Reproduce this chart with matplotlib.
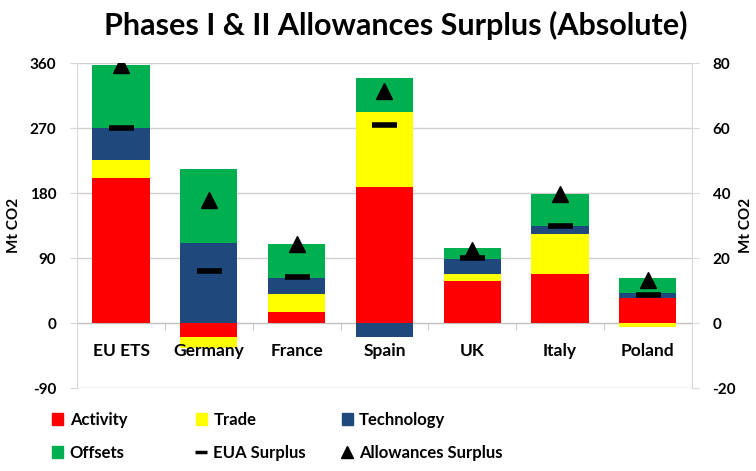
import numpy as np
import matplotlib
matplotlib.use("Agg")
import matplotlib.pyplot as plt
from matplotlib.lines import Line2D
from matplotlib.patches import Patch

plt.rcParams['font.family'] = ['Lato', 'DejaVu Sans']

# data (Mt CO2, left axis)
countries = ["EU ETS", "Germany", "France", "Spain", "UK", "Italy", "Poland"]
activity = [201, -19, 16, 189, 58, 68, 35]
trade = [25, -15, 24, 103, 10, 56, -5]
technology = [44, 111, 22, -19, 21, 10, 7]
offsets = [88, 102, 47, 48, 15, 45, 21]
# markers (right axis units)
eua_surplus = [60, 16, 14.2, 61, 20, 30, 8.5]
allow_surplus = [79.5, 37.8, 24.3, 71.3, 22.6, 39.6, 13.3]

left_ticks = [-90, 0, 90, 180, 270, 360]
right_ticks = [-20, 0, 20, 40, 60, 80]

c_act = "#ff0000"
c_trade = "#ffff00"
c_tech = "#1f497d"
c_off = "#00b050"

fig = plt.figure(figsize=(7.56, 4.71), dpi=100)
ax = fig.add_axes([0.102, 0.176, 0.813, 0.690])

x = np.arange(len(countries))
w = 0.65
pos_base = np.zeros(len(x))
neg_base = np.zeros(len(x))
for vals, col in [(activity, c_act), (trade, c_trade), (technology, c_tech), (offsets, c_off)]:
    vals = np.array(vals, dtype=float)
    base = np.where(vals >= 0, pos_base, neg_base)
    ax.bar(x, vals, w, bottom=base, color=col, zorder=3)
    pos_base = pos_base + np.where(vals >= 0, vals, 0)
    neg_base = neg_base + np.where(vals < 0, vals, 0)

ax.set_xlim(-0.5, len(x) - 0.5)
ax.set_ylim(-90, 360)
ax.set_yticks(left_ticks)
ax.set_yticklabels([str(t) for t in left_ticks], fontsize=11, fontweight='bold')
ax.grid(axis='y', color='#d0d0d0', lw=1, zorder=0)
ax.set_ylabel("Mt CO2", fontsize=11, fontweight='bold', labelpad=6)

ax.spines['bottom'].set_position(('data', 0))
ax.spines['bottom'].set_color('#c0c0c0')
ax.spines['bottom'].set_zorder(2)
ax.spines['top'].set_visible(False)
ax.spines['right'].set_visible(False)
ax.spines['left'].set_color('#d9d9d9')
ax.set_xticks(x)
ax.set_xticklabels(countries, fontsize=12.5, fontweight='bold')
ax.set_xticks(np.arange(0.5, len(x) - 0.5), minor=True)
ax.tick_params(axis='x', which='major', length=0, pad=14)
ax.tick_params(axis='x', which='minor', length=5, color='#c0c0c0', direction='out')
ax.tick_params(axis='y', length=5, color='#d9d9d9', pad=10)
ax.xaxis.set_zorder(4)

ax2 = ax.twinx()
ax2.set_ylim(-20, 80)
ax2.set_yticks(right_ticks)
ax2.set_yticklabels([str(t) for t in right_ticks], fontsize=11, fontweight='bold')
ax2.tick_params(axis='y', length=5, color='#d9d9d9', pad=10)
for s in ['top', 'left', 'bottom']:
    ax2.spines[s].set_visible(False)
ax2.spines['right'].set_color('#d9d9d9')
ax2.set_ylabel("Mt CO2", fontsize=11, fontweight='bold', labelpad=2)
ax2.plot(x, eua_surplus, ls='none', marker='_', ms=18, mew=4, color='black', zorder=5)
ax2.plot(x, allow_surplus, ls='none', marker='^', ms=11, color='black', zorder=5)

fig.text(0.523, 0.947, "Phases I & II Allowances Surplus (Absolute)", fontsize=22,
         fontweight='bold', ha='center', va='center')

legend_cols = [
    (0.069, [Patch(color=c_act, label="Activity"), Patch(color=c_off, label="Offsets")]),
    (0.259, [Patch(color=c_trade, label="Trade"),
             Line2D([], [], ls='none', marker='_', ms=9, mew=2.5, color='black', label="EUA Surplus")]),
    (0.452, [Patch(color=c_tech, label="Technology"),
             Line2D([], [], ls='none', marker='^', ms=8, color='black', label="Allowances Surplus")]),
]
for xpos, hs in legend_cols:
    fig.legend(handles=hs, loc='upper left', bbox_to_anchor=(xpos, 0.125), frameon=False,
               prop={'size': 12, 'weight': 'bold'}, handlelength=0.65, handleheight=0.75,
               handletextpad=0.4, labelspacing=1.0, borderaxespad=0, borderpad=0)

plt.savefig("out.png", dpi=100)
